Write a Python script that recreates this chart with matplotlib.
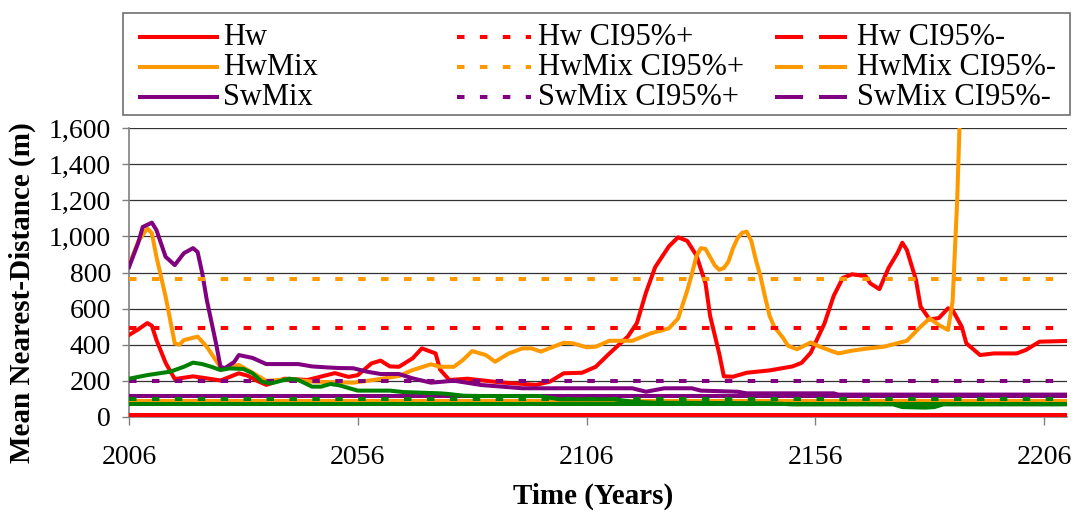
import matplotlib
matplotlib.use('Agg')
import matplotlib.pyplot as plt
from matplotlib.lines import Line2D
from matplotlib.patches import Rectangle
from matplotlib.ticker import FuncFormatter

# --- data ---
hw_years = [2006, 2008, 2010, 2011, 2012, 2014, 2016, 2020, 2023, 2026, 2030, 2032,
            2034, 2036, 2040, 2045, 2051, 2054, 2056, 2059, 2061, 2063, 2065, 2068,
            2070, 2073, 2074, 2076, 2080, 2087, 2095, 2098, 2101, 2105, 2108, 2111,
            2115, 2117, 2119, 2121, 2124, 2126, 2128, 2130, 2132, 2133, 2135, 2136,
            2138, 2141, 2146, 2151, 2153, 2155, 2158, 2160, 2162, 2164, 2167, 2168,
            2170, 2172, 2174, 2175, 2176, 2178, 2179, 2181, 2183, 2185, 2186, 2188,
            2189, 2192, 2195, 2200, 2202, 2205, 2211]
hw_vals = [454, 485, 520, 505, 426, 300, 210, 225, 214, 202, 242, 228,
           200, 178, 212, 205, 243, 222, 232, 297, 312, 280, 278, 325,
           380, 352, 262, 205, 212, 192, 178, 196, 242, 245, 278, 352,
           445, 520, 690, 830, 945, 995, 975, 895, 740, 560, 350, 225,
           223, 245, 258, 280, 300, 356, 518, 670, 770, 790, 780, 740,
           708, 825, 910, 965, 925, 758, 611, 540, 548, 602, 592, 500,
           408, 343, 352, 352, 371, 417, 421]

hwmix_years = [2006, 2008, 2010, 2011, 2012, 2014, 2015, 2016, 2017, 2018, 2021, 2023,
               2026, 2027, 2030, 2033, 2036, 2041, 2046, 2055, 2060, 2065, 2068, 2072,
               2074, 2077, 2079, 2081, 2084, 2086, 2089, 2092, 2094, 2096, 2101, 2103,
               2106, 2108, 2111, 2116, 2120, 2124, 2126, 2128, 2129, 2130, 2131, 2132,
               2133, 2134, 2135, 2136, 2137, 2138, 2139, 2140, 2141, 2142, 2143, 2144,
               2145, 2146, 2147, 2149, 2150, 2152, 2155, 2157, 2161, 2164, 2167, 2171,
               2176, 2179, 2181, 2183, 2185, 2186, 2187, 2188, 2189, 2211]
hwmix_vals = [840, 971, 1044, 1017, 887, 666, 537, 408, 400, 426, 445, 389,
              275, 269, 288, 245, 200, 209, 196, 190, 207, 227, 260, 292,
              278, 278, 316, 365, 343, 306, 352, 380, 380, 362, 411, 408,
              386, 389, 422, 422, 463, 491, 545, 700, 790, 890, 935, 930,
              885, 840, 815, 825, 860, 934, 990, 1020, 1026, 975, 870, 780,
              666, 560, 500, 436, 395, 375, 413, 389, 352, 367, 378, 389,
              422, 500, 546, 509, 482, 640, 1200, 2000, 2800, 2800]

swmix_years = [2006, 2008, 2009, 2011, 2012, 2014, 2016, 2018, 2020, 2021, 2022, 2023,
               2025, 2026, 2027, 2029, 2030, 2033, 2036, 2043, 2046, 2049, 2052, 2055,
               2058, 2061, 2065, 2068, 2072, 2077, 2083, 2092, 2116, 2119, 2123, 2129,
               2131, 2139, 2141, 2160, 2161, 2211]
swmix_vals = [830, 963, 1052, 1076, 1035, 887, 841, 907, 935, 913, 797, 648,
              410, 277, 271, 305, 343, 327, 293, 293, 280, 275, 271, 270,
              251, 238, 238, 214, 190, 201, 177, 159, 159, 140, 159, 159,
              146, 140, 131, 131, 124, 124]

sw_years = [2006, 2010, 2015, 2018, 2020, 2022, 2024, 2026, 2028, 2031, 2033, 2035,
            2037, 2041, 2043, 2046, 2048, 2050, 2052, 2056, 2063, 2066, 2074, 2076,
            2079, 2083, 2096, 2100, 2112, 2116, 2121, 2146, 2151, 2173, 2175, 2180,
            2182, 2184, 2211]
sw_vals = [212, 232, 251, 278, 301, 293, 278, 260, 269, 266, 242, 196,
           186, 212, 205, 168, 168, 183, 175, 146, 146, 138, 131, 127,
           118, 116, 116, 98, 98, 85, 79, 76, 70, 70, 55, 52,
           55, 70, 70]

# confidence limits: Hw, HwMix, SwMix, Sw
ci_plus = [491, 764, 199, 100]
ci_minus = [11, 90, 114, 70]

names = ['Hw', 'HwMix', 'SwMix']
colors = ['#FF0000', '#FF9900', '#800080', '#008000']
yticks = [0, 200, 400, 600, 800, 1000, 1200, 1400, 1600]
xticks = [2006, 2056, 2106, 2156, 2206]

plt.rcParams['font.family'] = 'Liberation Serif'
plt.rcParams['lines.scale_dashes'] = False

W, H = 1074, 512
fig = plt.figure(figsize=(W / 100, H / 100), dpi=100)
ax = fig.add_axes([129 / W, 95 / H, 938 / W, 289 / H])

lw = 2.9
dot = (0, (5.4, 11.1))
long_dash = (0, (20.2, 11.5))

for yrs, vals, c in zip([hw_years, hwmix_years, swmix_years],
                        [hw_vals, hwmix_vals, swmix_vals], colors[:3]):
    ax.plot(yrs, vals, color=c, lw=lw, zorder=3)

for v, c in zip(ci_plus[:3], colors[:3]):
    ax.axhline(v, color=c, lw=lw, linestyle=dot, zorder=4)
for v, c in zip(ci_minus[:3], colors[:3]):
    ax.axhline(v, color=c, lw=lw, zorder=3)

# green series (not in legend)
ax.plot(sw_years, sw_vals, color=colors[3], lw=lw, zorder=5)
ax.axhline(ci_plus[3], color=colors[3], lw=lw, linestyle=dot, zorder=5)
ax.axhline(ci_minus[3], color=colors[3], lw=lw, zorder=5)

ax.set_xlim(2006, 2211)
ax.set_ylim(0, 1600)
ax.set_yticks(yticks)
ax.set_xticks(xticks)
ax.yaxis.set_major_formatter(FuncFormatter(lambda v, p: f'{v:,.0f}'))
ax.grid(axis='y', color='#333333', lw=0.9, zorder=1)
ax.set_axisbelow(True)

for s in ['top', 'right']:
    ax.spines[s].set_visible(False)
for s in ['left', 'bottom']:
    ax.spines[s].set_color('#808080')
    ax.spines[s].set_linewidth(1.2)

ax.tick_params(axis='y', direction='out', length=5, width=1, color='#808080',
               labelsize=20, pad=8)
ax.tick_params(axis='x', direction='out', length=6, width=1, color='#808080',
               labelsize=20, pad=14)

ax.set_ylabel('Mean Nearest-Distance (m)', fontsize=21, fontweight='bold')
ax.yaxis.set_label_coords(-0.099, 0.43)
ax.set_xlabel('Time (Years)', fontsize=21, fontweight='bold')
ax.xaxis.set_label_coords(0.495, -0.228)

# legend drawn by hand so the three columns are evenly spread like the original
handle_x = [(140, 217), (457, 531), (775, 847)]
text_x = [223, 538, 857]
row_y = [37, 67, 97]
col_styles = ['-', dot, long_dash]
col_suffix = ['', ' CI95%+', ' CI95%-']
for (hx0, hx1), tx, ls, suf in zip(handle_x, text_x, col_styles, col_suffix):
    for ry, name, c in zip(row_y, names, colors[:3]):
        fig.add_artist(Line2D([hx0 / W, hx1 / W], [1 - ry / H, 1 - ry / H],
                              transform=fig.transFigure, color=c, lw=lw,
                              linestyle=ls))
        fig.text(tx / W, 1 - (ry + 8) / H, name + suf, fontsize=22,
                 va='baseline', ha='left')

fig.add_artist(Rectangle((123 / W, 1 - 115 / H), 947 / W, 102 / H,
                         transform=fig.transFigure, fill=False,
                         edgecolor='#707070', lw=1.2))

fig.savefig('out.png', dpi=100)
